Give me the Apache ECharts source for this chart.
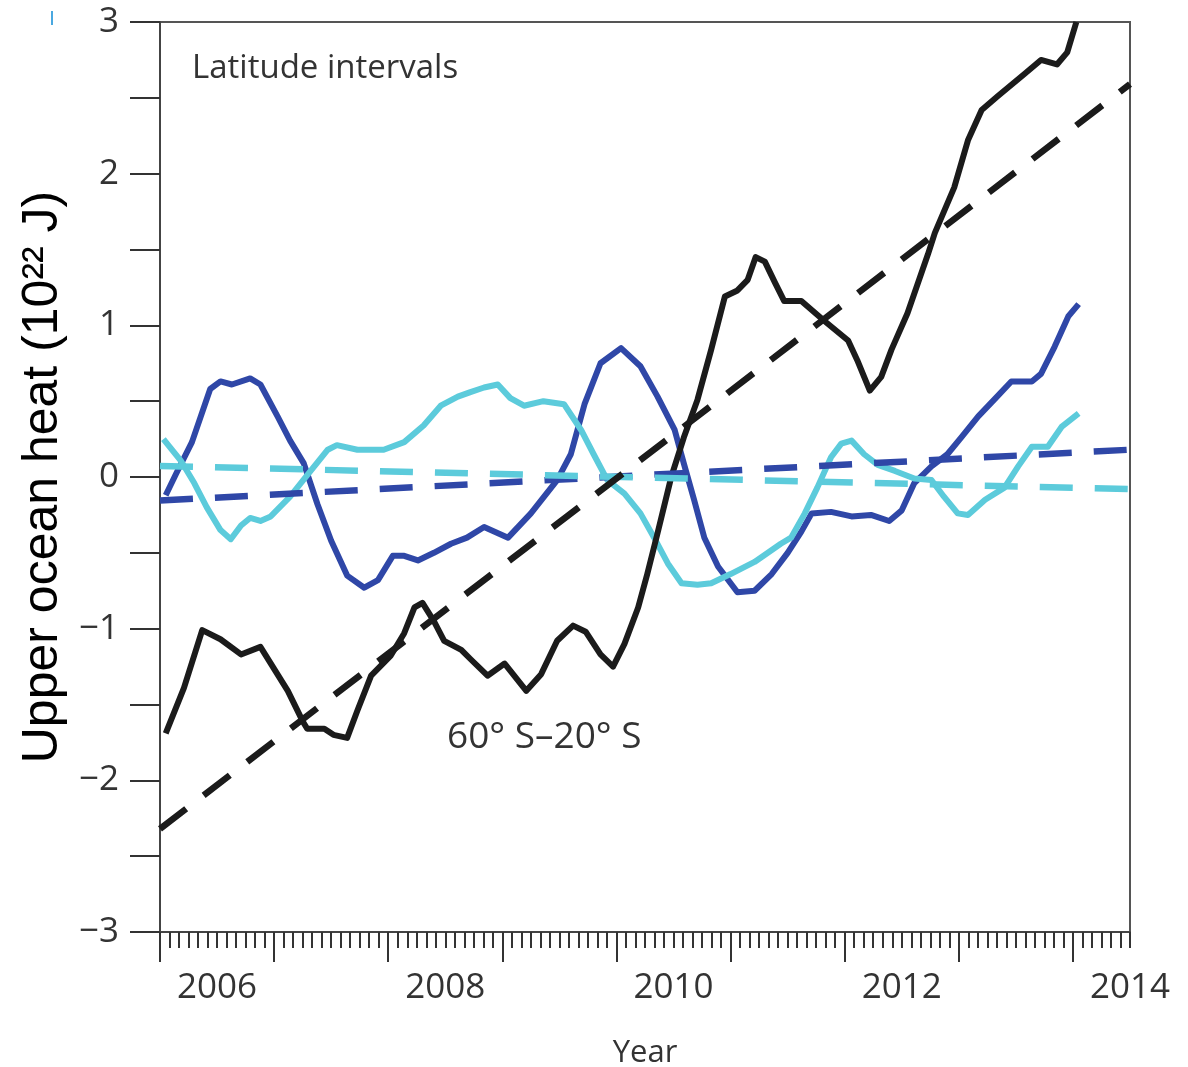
<!doctype html>
<html lang="en">
<head>
  <meta charset="utf-8">
  <title>Upper ocean heat</title>
  <script src="https://cdn.jsdelivr.net/npm/echarts/dist/echarts.min.js"></script>
  <style>
    body { margin: 0; background: #fff; }
    #chartmain { width: 1188px; height: 1067px; }
  </style>
</head>
<body>
<div id="chartmain"></div>
<script>
    // 60S-20S, solid black
    var blackYears = [2006.05, 2006.21, 2006.37, 2006.53, 2006.71, 2006.88, 2007.12, 2007.25, 2007.29, 2007.44,
        2007.52, 2007.64, 2007.73, 2007.85, 2008.02, 2008.14, 2008.23, 2008.30, 2008.40, 2008.49,
        2008.64, 2008.72, 2008.87, 2009.02, 2009.21, 2009.34, 2009.48, 2009.62, 2009.73, 2009.86,
        2009.97, 2010.07, 2010.19, 2010.27, 2010.36, 2010.48, 2010.59, 2010.71, 2010.83, 2010.95,
        2011.06, 2011.15, 2011.22, 2011.30, 2011.39, 2011.47, 2011.62, 2011.82, 2012.03, 2012.11,
        2012.22, 2012.32, 2012.41, 2012.55, 2012.73, 2012.79, 2012.96, 2013.08, 2013.20, 2013.34,
        2013.58, 2013.72, 2013.86, 2013.95, 2014.03];
    var blackHeat = [-1.69, -1.39, -1.01, -1.07, -1.17, -1.12, -1.41, -1.61, -1.66, -1.66,
        -1.70, -1.72, -1.54, -1.31, -1.18, -1.03, -0.86, -0.83, -0.95, -1.08,
        -1.14, -1.20, -1.31, -1.23, -1.41, -1.30, -1.08, -0.98, -1.02, -1.17,
        -1.25, -1.10, -0.86, -0.64, -0.37, 0.00, 0.26, 0.51, 0.84, 1.19,
        1.23, 1.30, 1.45, 1.42, 1.28, 1.16, 1.16, 1.03, 0.90, 0.77,
        0.57, 0.66, 0.84, 1.08, 1.47, 1.61, 1.91, 2.22, 2.42, 2.51,
        2.66, 2.75, 2.72, 2.80, 3.00];

    // dark blue
    var blueYears = [2006.05, 2006.14, 2006.28, 2006.44, 2006.53, 2006.63, 2006.79, 2006.88, 2007.03, 2007.14,
        2007.26, 2007.38, 2007.50, 2007.64, 2007.79, 2007.91, 2008.04, 2008.14, 2008.26, 2008.40,
        2008.55, 2008.69, 2008.84, 2009.05, 2009.25, 2009.48, 2009.60, 2009.72, 2009.86, 2010.04,
        2010.21, 2010.36, 2010.51, 2010.59, 2010.68, 2010.77, 2010.89, 2011.06, 2011.21, 2011.36,
        2011.50, 2011.62, 2011.71, 2011.88, 2012.06, 2012.23, 2012.39, 2012.50, 2012.61, 2012.76,
        2012.90, 2013.02, 2013.17, 2013.31, 2013.46, 2013.64, 2013.72, 2013.84, 2013.96, 2014.05];
    var blueHeat = [-0.12, 0.02, 0.23, 0.58, 0.63, 0.61, 0.65, 0.61, 0.40, 0.24,
        0.09, -0.18, -0.42, -0.65, -0.73, -0.68, -0.52, -0.52, -0.55, -0.50,
        -0.44, -0.40, -0.33, -0.40, -0.24, -0.02, 0.15, 0.48, 0.75, 0.85,
        0.73, 0.53, 0.31, 0.09, -0.15, -0.40, -0.59, -0.76, -0.75, -0.64,
        -0.50, -0.36, -0.24, -0.23, -0.26, -0.25, -0.29, -0.22, -0.04, 0.07,
        0.15, 0.26, 0.40, 0.51, 0.63, 0.63, 0.68, 0.86, 1.06, 1.14];

    // light blue
    var cyanYears = [2006.03, 2006.18, 2006.30, 2006.41, 2006.53, 2006.62, 2006.71, 2006.79, 2006.88, 2006.97,
        2007.14, 2007.32, 2007.47, 2007.55, 2007.73, 2007.96, 2008.14, 2008.31, 2008.46, 2008.61,
        2008.72, 2008.84, 2008.96, 2009.07, 2009.19, 2009.36, 2009.54, 2009.69, 2009.80, 2009.92,
        2010.07, 2010.21, 2010.33, 2010.45, 2010.57, 2010.71, 2010.83, 2011.00, 2011.21, 2011.44,
        2011.53, 2011.65, 2011.76, 2011.88, 2011.97, 2012.06, 2012.17, 2012.29, 2012.44, 2012.61,
        2012.76, 2012.87, 2012.99, 2013.08, 2013.23, 2013.40, 2013.52, 2013.64, 2013.78, 2013.90, 2014.05];
    var cyanHeat = [0.25, 0.11, -0.04, -0.20, -0.35, -0.41, -0.32, -0.27, -0.29, -0.26,
        -0.13, 0.04, 0.18, 0.21, 0.18, 0.18, 0.23, 0.34, 0.47, 0.53,
        0.56, 0.59, 0.61, 0.52, 0.47, 0.50, 0.48, 0.31, 0.15, -0.02,
        -0.11, -0.24, -0.40, -0.57, -0.70, -0.71, -0.70, -0.64, -0.56, -0.44,
        -0.40, -0.24, -0.07, 0.13, 0.22, 0.24, 0.15, 0.08, 0.04, -0.01,
        -0.02, -0.13, -0.24, -0.25, -0.15, -0.07, 0.07, 0.20, 0.20, 0.33, 0.42];

    // linear trends (dashed)
    var trendYears = [2006.0, 2014.5];
    var blackTrend = [-2.32, 2.59];
    var blueTrend = [-0.155, 0.18];
    var cyanTrend = [0.073, -0.08];

    var majorYears = [2006, 2007, 2008, 2009, 2010, 2011, 2012, 2013, 2014];
    var yearLabelPos = [2006.5, 2008.5, 2010.5, 2012.5, 2014.5];
    var yearLabels = ['2006', '2008', '2010', '2012', '2014'];
    var heatLabels = { '3': '3', '2': '2', '1': '1', '0': '0', '-1': '\u22121', '-2': '\u22122', '-3': '\u22123' };

    var BLACK = '#1b1b1b', BLUE = '#2f47a7', CYAN = '#5ccbdb';
    var TXT = '#333333';

    function pairs(xs, ys) {
        return xs.map(function (x, i) { return [x, ys[i]]; });
    }

    var monthTicks = [];
    for (var m = 0; m <= 102; m++) {
        monthTicks.push(Math.round((2006 + m / 12) * 10000) / 10000);
    }

    var myChart = echarts.init(document.getElementById('chartmain'));

    var option = {
        backgroundColor: '#fff',
        animation: false,
        grid: {
            left: 160, right: 58, top: 22, bottom: 135,
            containLabel: false, outerBoundsMode: 'none',
            show: true, borderColor: '#555', borderWidth: 2
        },
        xAxis: [
            {
                type: 'value', min: 2006, max: 2014.5, position: 'bottom',
                name: 'Year', nameLocation: 'middle', nameGap: 106,
                nameTextStyle: { fontFamily: 'Open Sans', fontSize: 31, color: TXT },
                axisLine: { show: true, onZero: false, lineStyle: { color: '#444', width: 2 } },
                axisTick: { show: true, length: 16, customValues: monthTicks, lineStyle: { color: '#333', width: 2 } },
                axisLabel: {
                    customValues: yearLabelPos, margin: 39,
                    fontFamily: 'Open Sans', fontSize: 35, color: TXT,
                    formatter: function (v) { return yearLabels[yearLabelPos.indexOf(v)] || ''; }
                },
                splitLine: { show: false }
            },
            {
                type: 'value', min: 2006, max: 2014.5, position: 'bottom', offset: 0,
                axisLine: { show: false, onZero: false },
                axisTick: { show: true, length: 30, customValues: majorYears, lineStyle: { color: '#333', width: 2 } },
                axisLabel: { show: false },
                splitLine: { show: false }
            }
        ],
        yAxis: {
            type: 'value', min: -3, max: 3, interval: 0.5,
            name: 'Upper ocean heat (10\u00b2\u00b2 J)', nameLocation: 'middle', nameGap: 86,
            nameTextStyle: { fontFamily: 'Liberation Sans', fontSize: 50, color: '#000' },
            axisLine: { show: true, lineStyle: { color: '#444', width: 2 } },
            axisTick: { show: true, length: 30, lineStyle: { color: '#333', width: 2 } },
            axisLabel: {
                margin: 41, fontFamily: 'Open Sans', fontSize: 35, color: TXT,
                formatter: function (v) { return heatLabels[String(v)] || ''; }
            },
            splitLine: { show: false }
        },
        graphic: [
            { type: 'text', left: 192, top: 52, style: { text: 'Latitude intervals', font: '33px "Open Sans"', fill: TXT } },
            { type: 'text', left: 447, top: 719, style: { text: '60\u00b0 S\u201320\u00b0 S', font: '37px "Open Sans"', fill: TXT } },
            { type: 'rect', left: 51, top: 11, shape: { width: 2, height: 14 }, style: { fill: '#4aa8e0' } }
        ],
        series: [
            { name: 'blue', type: 'line', data: pairs(blueYears, blueHeat), showSymbol: false, symbol: 'none',
              lineStyle: { color: BLUE, width: 6, join: 'round' } },
            { name: 'cyan', type: 'line', data: pairs(cyanYears, cyanHeat), showSymbol: false, symbol: 'none',
              lineStyle: { color: CYAN, width: 6, join: 'round' } },
            { name: 'black', type: 'line', data: pairs(blackYears, blackHeat), showSymbol: false, symbol: 'none',
              lineStyle: { color: BLACK, width: 6, join: 'round' } },
            { name: 'blue trend', type: 'line', data: pairs(trendYears, blueTrend), showSymbol: false, symbol: 'none',
              lineStyle: { color: BLUE, width: 6.5, type: [33, 22] } },
            { name: 'cyan trend', type: 'line', data: pairs(trendYears, cyanTrend), showSymbol: false, symbol: 'none',
              lineStyle: { color: CYAN, width: 6.5, type: [33, 22] } },
            { name: 'black trend', type: 'line', data: pairs(trendYears, blackTrend), showSymbol: false, symbol: 'none',
              lineStyle: { color: BLACK, width: 6.5, type: [33, 22] } }
        ]
    };
    myChart.setOption(option);
</script>
</body>
</html>
